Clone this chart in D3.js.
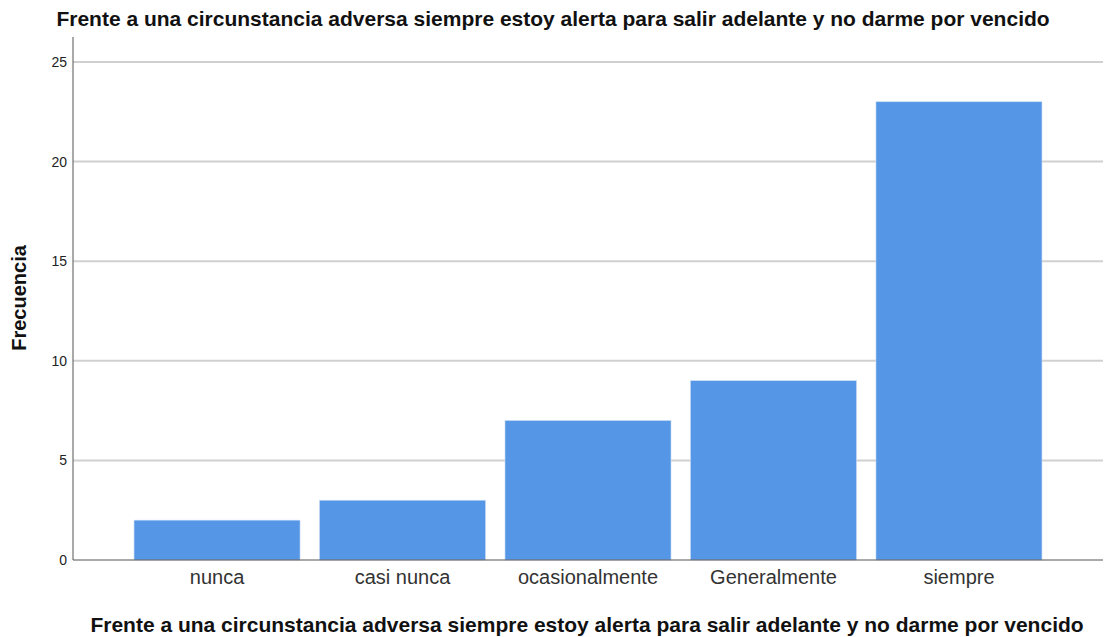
<!DOCTYPE html>
<html><head><meta charset="utf-8">
<script src="https://cdn.jsdelivr.net/npm/d3@7"></script>
<style>body{margin:0;background:#fff}svg{display:block;font-family:"Liberation Sans",Arial,sans-serif}</style>
</head><body>
<svg id="c" width="1104" height="637"></svg>
<script>
const categories = ["nunca","casi nunca","ocasionalmente","Generalmente","siempre"];
const values = [2,3,7,9,23];
const yTicks = [0,5,10,15,20,25];
const title = "Frente a una circunstancia adversa siempre estoy alerta para salir adelante y no darme por vencido";
const yLabel = "Frecuencia";

(function(){
const svg = d3.select("#c");
const pL = 73, pR = 1103, pT = 37, pB = 560;
const x = d3.scaleBand().domain(categories).range([pL, pR]).paddingInner(0.105).paddingOuter(0.329);
const y = d3.scaleLinear().domain([0, 26.25]).range([pB, pT]);

svg.append("g").selectAll("line").data(yTicks.filter(d=>d>0)).join("line")
  .attr("x1", pL).attr("x2", pR).attr("y1", d=>y(d)).attr("y2", d=>y(d))
  .attr("stroke", "#d0d0d0").attr("stroke-width", 2);

svg.append("g").selectAll("rect").data(values).join("rect")
  .attr("x", (d,i)=>x(categories[i])).attr("width", x.bandwidth())
  .attr("y", d=>y(d)).attr("height", d=>pB - y(d))
  .attr("fill", "#5596e6").attr("stroke", "#c8dcf5").attr("stroke-width", 0.6);

const ya = svg.append("g").attr("transform", `translate(${pL},0)`)
  .call(d3.axisLeft(y).tickValues(yTicks).tickSize(0).tickPadding(6));
ya.select(".domain").remove();
ya.selectAll("text").attr("font-size", 14).attr("fill", "#222").attr("font-family", "Liberation Sans, Arial, sans-serif");
svg.append("line").attr("x1", pL).attr("x2", pL).attr("y1", pT).attr("y2", pB).attr("stroke", "#555").attr("stroke-width", 1);

const xa = svg.append("g").attr("transform", `translate(0,${pB})`)
  .call(d3.axisBottom(x).tickSize(0).tickPadding(10));
xa.select(".domain").remove();
xa.selectAll("text").attr("font-size", 20).attr("fill", "#333").attr("font-family", "Liberation Sans, Arial, sans-serif");
svg.append("line").attr("x1", pL).attr("x2", pR).attr("y1", pB).attr("y2", pB).attr("stroke", "#555").attr("stroke-width", 1);

svg.append("text").attr("x", 553).attr("y", 26).attr("text-anchor", "middle")
  .attr("font-size", 21).attr("font-weight", "bold").attr("fill", "#111").text(title);
svg.append("text").attr("x", 587).attr("y", 632).attr("text-anchor", "middle")
  .attr("font-size", 21).attr("font-weight", "bold").attr("fill", "#111").text(title);
svg.append("text").attr("transform", "translate(26,298) rotate(-90)").attr("text-anchor", "middle")
  .attr("font-size", 20).attr("font-weight", "bold").attr("fill", "#111").text(yLabel);
})();
</script>
</body></html>
